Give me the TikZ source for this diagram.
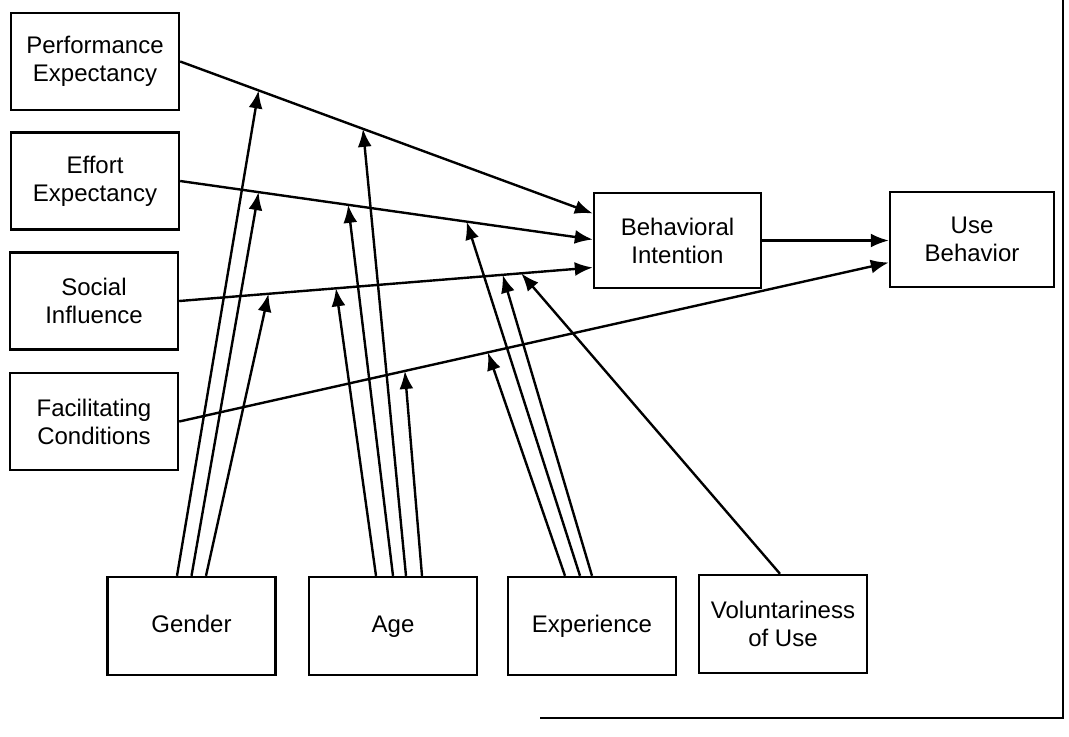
\documentclass[tikz,border=0pt]{standalone}
\usepackage{fontspec}
\setmainfont{Liberation Sans}
\usetikzlibrary{calc,arrows.meta}

\begin{document}
\begin{tikzpicture}[x=0.5pt, y=-0.5pt, line width=1.2pt,
		box/.style={draw, align=center, minimum width=84pt, minimum height=48.5pt, inner sep=2pt, font=\fontsize{12}{14}\selectfont},
		arr/.style={-{Latex[length=9pt, width=7pt]}}]
			%%%%% START %%%%%
			\useasboundingbox (0, 0) rectangle (1069, 736);
			
			\node[box] (PE) at (95, 61.5) {Performance\\Expectancy};
			\node[box] (EE) at (95, 181) {Effort\\Expectancy};
			\node[box] (SI) at (94, 301) {Social\\Influence};
			\node[box] (FC) at (94, 421.5) {Facilitating\\Conditions};
			
			\node[box, minimum width=83.5pt, minimum height=47.5pt] (BI) at (677.5, 240.5) {Behavioral\\Intention};
			\node[box, minimum width=82pt, minimum height=47.5pt] (UB) at (972, 239.5) {Use\\Behavior};
			
			\node[box, minimum height=49pt, text height=9pt, text depth=3pt] (G) at (191.5, 626) {Gender};
			\node[box, minimum height=49pt, text height=9pt, text depth=3pt] (A) at (393, 626) {Age};
			\node[box, minimum height=49pt, text height=9pt, text depth=3pt] (X) at (592, 626) {Experience};
			\node[box, minimum height=49pt] (V) at (783, 624) {Voluntariness\\of Use};
			
			% main paths
			\draw[arr] (PE.east) -- ($(BI.west)+(0,-27)$) coordinate[pos=0.19] (pe1) coordinate[pos=0.443] (pe2);
			\draw[arr] (EE.east) -- ($(BI.west)+(0,-1)$) coordinate[pos=0.19] (ee1) coordinate[pos=0.407] (ee2) coordinate[pos=0.694] (ee3);
			\draw[arr] (SI.east) -- ($(BI.west)+(0,27)$) coordinate[pos=0.216] (si1) coordinate[pos=0.379] (si2) coordinate[pos=0.782] (si3) coordinate[pos=0.827] (si4);
			\draw[arr] (FC.east) -- ($(UB.west)+(0,23)$) coordinate[pos=0.318] (fc1) coordinate[pos=0.435] (fc2);
			\draw[arr] (BI.east) -- (BI.east -| UB.west);
			
			% gender
			\draw[arr] ($(G.north)+(-14.5,0)$) -- (pe1);
			\draw[arr] (G.north) -- (ee1);
			\draw[arr] ($(G.north)+(14.5,0)$) -- (si1);
			
			% age
			\draw[arr] ($(A.north)+(-17,0)$) -- (si2);
			\draw[arr] (A.north) -- (ee2);
			\draw[arr] ($(A.north)+(13,0)$) -- (pe2);
			\draw[arr] ($(A.north)+(29,0)$) -- (fc1);
			
			% experience
			\draw[arr] ($(X.north)+(-27,0)$) -- (fc2);
			\draw[arr] ($(X.north)+(-12,0)$) -- (ee3);
			\draw[arr] (X.north) -- (si3);
			
			% voluntariness
			\draw[arr] ($(V.north)+(-3,0)$) -- (si4);
			
			% frame
			\draw (540, 718) -- (1063, 718) -- (1063, 0);
			%%%%% END %%%%%
\end{tikzpicture}
\end{document}
